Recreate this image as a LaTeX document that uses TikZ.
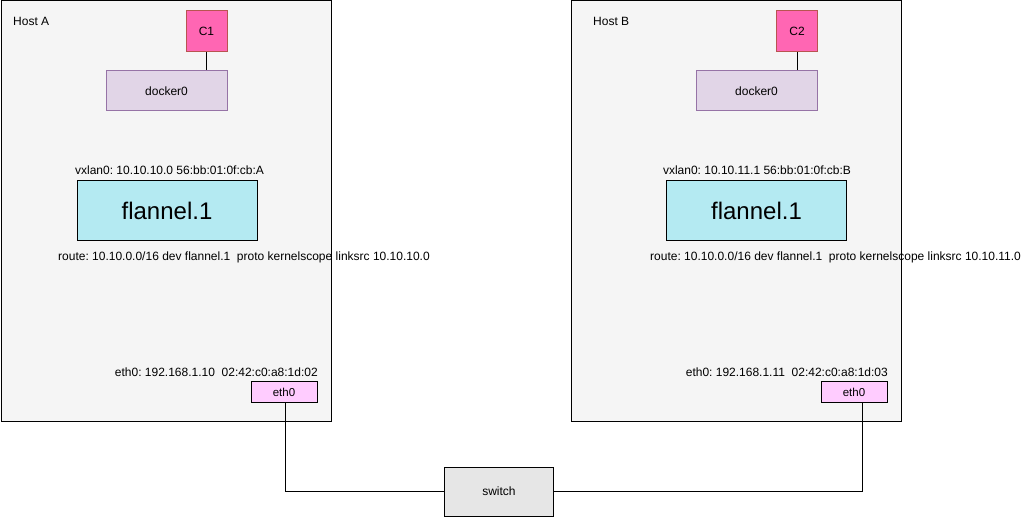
\documentclass[tikz,border=0pt]{standalone}
\usepackage{fontspec}
\setmainfont{Liberation Sans}
\frenchspacing
\begin{document}
\begin{tikzpicture}[x=1pt,y=-1pt,
  box/.style={draw=black,line width=1pt,rectangle,inner sep=0pt,font=\fontsize{12}{14}\selectfont},
  host/.style={box,fill=hostfill,minimum width=330pt,minimum height=420pt},
  ctr/.style={box,fill=cfill,draw=cdraw,minimum width=41pt,minimum height=41pt},
  bridge/.style={box,fill=dfill,draw=ddraw,minimum width=121pt,minimum height=40pt},
  flan/.style={box,fill=ffill,minimum width=180pt,minimum height=60pt,font=\fontsize{24}{28}\selectfont},
  eth/.style={box,fill=efill,minimum width=66pt,minimum height=21pt,font=\fontsize{11.5}{13}\selectfont},
  sw/.style={box,fill=sfill,minimum width=109pt,minimum height=49pt},
  lbl/.style={inner sep=0pt,font=\fontsize{12}{14}\selectfont},
  wire/.style={draw=black,line width=1pt}]
\definecolor{hostfill}{HTML}{F5F5F5}
\definecolor{cfill}{HTML}{FF66B3}
\definecolor{cdraw}{HTML}{B85450}
\definecolor{dfill}{HTML}{E1D5E7}
\definecolor{ddraw}{HTML}{9673A6}
\definecolor{ffill}{HTML}{B4EAF2}
\definecolor{efill}{HTML}{FFCCFF}
\definecolor{sfill}{HTML}{E6E6E6}
\useasboundingbox[fill=white] (0,0) rectangle (1028,518);

% Host A
\node[host] (hA) at (166,211) {};
\node[lbl,anchor=west] (hAl) at (13,21) {Host A};
\node[ctr] (c1) at (206.5,31) {C1};
\node[bridge] (dA) at (166.5,91) {docker0};
\node[lbl] (vA) at (169.5,170) {vxlan0: 10.10.10.0 56:bb:01:0f:cb:A};
\node[flan] (fA) at (167,211) {flannel.1};
\node[lbl,anchor=west] (rA) at (58,257) {route: 10.10.0.0/16 dev flannel.1\ \ proto kernelscope linksrc 10.10.10.0};
\node[lbl,anchor=east] (tA) at (318,372) {eth0: 192.168.1.10\ \ 02:42:c0:a8:1d:02};
\node[eth] (eA) at (284,392.5) {eth0};

% Host B
\node[host] (hB) at (736,211) {};
\node[lbl,anchor=west] (hBl) at (593,21) {Host B};
\node[ctr] (c2) at (797,31) {C2};
\node[bridge] (dB) at (756.5,91) {docker0};
\node[lbl] (vB) at (757,170) {vxlan0: 10.10.11.1 56:bb:01:0f:cb:B};
\node[flan] (fB) at (756.5,211) {flannel.1};
\node[lbl,anchor=west] (rB) at (650,257) {route: 10.10.0.0/16 dev flannel.1\ \ proto kernelscope linksrc 10.10.11.0};
\node[lbl,anchor=east] (tB) at (888,372) {eth0: 192.168.1.11\ \ 02:42:c0:a8:1d:03};
\node[eth] (eB) at (854,392.5) {eth0};

% switch
\node[sw] (sw) at (499,491.5) {switch};

% connectors
\draw[wire] (c1.south) -- (c1.south |- dA.north);
\draw[wire] (c2.south) -- (c2.south |- dB.north);
\draw[wire] ([xshift=1pt]eA.south) |- (sw.west);
\draw[wire] ([xshift=8pt]eB.south) |- (sw.east);
\end{tikzpicture}
\end{document}
